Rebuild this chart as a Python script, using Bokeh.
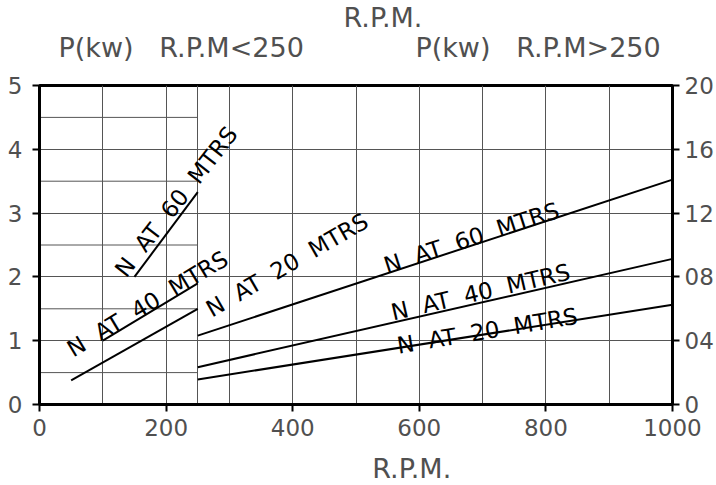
from bokeh.plotting import figure
from bokeh.models import Range1d, LinearAxis, FixedTicker, Title, ColumnDataSource
from bokeh.core.properties import value
from bokeh.embed import file_html
from bokeh.resources import INLINE

# Power curves below 250 rpm (left scale, kW 0-5)
rpm_low_20 = [50, 250]
kw_low_20 = [0.38, 1.5]
rpm_low_40 = [100, 250]
kw_low_40 = [1.0, 1.9]
rpm_low_60 = [150, 250]
kw_low_60 = [2.0, 3.33]

# Power curves above 250 rpm (right scale, kW 0-20)
rpm_high = [250, 1000]
kw_high_20 = [1.57, 6.25]
kw_high_40 = [2.34, 9.13]
kw_high_60 = [4.32, 14.1]

x_ticks = [0, 200, 400, 600, 800, 1000]
left_ticks = [0, 1, 2, 3, 4, 5]
right_ticks = [0, 4, 8, 12, 16, 20]
right_tick_labels = ["0", "04", "08", "12", "16", "20"]

NB = "\u00a0"
GAP = NB * 2
curve_label = "N" + GAP + "AT" + GAP + "{}" + GAP + "MTRS"
caption_low = "P(kw)" + NB * 3 + "R.P.M<250"
caption_high = "P(kw)" + NB * 3 + "R.P.M>250"
axis_name = "R.P.M."

FONT = "DejaVu Sans"
TICK_GREY = "#505050"
GRID = "#555555"

p = figure(frame_width=633, frame_height=319,
           x_range=Range1d(0, 1000), y_range=Range1d(0, 5),
           output_backend="svg", toolbar_location=None,
           min_border_left=39, min_border_right=44,
           min_border_top=85, min_border_bottom=81,
           background_fill_color="white", border_fill_color="white")
p.extra_y_ranges = {"high": Range1d(0, 20)}

# frame and axes
p.outline_line_color = "black"
p.outline_line_width = 3
p.outline_line_alpha = 1.0

def style_axis(ax):
    ax.axis_line_width = 3
    ax.axis_line_color = "black"
    ax.major_tick_line_width = 2
    ax.major_tick_line_color = "black"
    ax.major_tick_out = 7
    ax.major_tick_in = 0
    ax.minor_tick_out = 0
    ax.minor_tick_in = 0
    ax.major_label_text_font = FONT
    ax.major_label_text_font_size = "23px"
    ax.major_label_text_color = TICK_GREY

xa = p.xaxis[0]
xa.ticker = FixedTicker(ticks=x_ticks)
style_axis(xa)
xa.major_label_standoff = 7
# axis name sits right of centre: pad with no-break spaces
xa.axis_label = NB * 13 + axis_name
xa.axis_label_text_font = FONT
xa.axis_label_text_font_size = "27px"
xa.axis_label_text_font_style = "normal"
xa.axis_label_text_color = TICK_GREY
xa.axis_label_standoff = 14

ya = p.yaxis[0]
ya.ticker = FixedTicker(ticks=left_ticks)
style_axis(ya)
ya.major_label_standoff = 10

ra = LinearAxis(y_range_name="high", ticker=FixedTicker(ticks=right_ticks),
                major_label_overrides={t: s for t, s in zip(right_ticks, right_tick_labels)})
style_axis(ra)
ra.major_label_standoff = 5
p.add_layout(ra, "right")

# grid: full lines plus half-steps in the low-speed zone
p.xgrid.ticker = FixedTicker(ticks=[100, 200, 250, 300, 400, 500, 600, 700, 800, 900])
p.ygrid.ticker = FixedTicker(ticks=[1, 2, 3, 4])
for g in (p.xgrid[0], p.ygrid[0]):
    g.grid_line_color = GRID
    g.grid_line_width = 1

half_steps = [0.5, 1.5, 2.5, 3.5, 4.5]
p.segment(x0=[0] * len(half_steps), x1=[250] * len(half_steps),
          y0=half_steps, y1=half_steps, line_color=GRID, line_width=1)

# curves
for xs, ys in ((rpm_low_20, kw_low_20), (rpm_low_40, kw_low_40), (rpm_low_60, kw_low_60)):
    p.line(xs, ys, line_color="black", line_width=2)
for ys in (kw_high_20, kw_high_40, kw_high_60):
    p.line(rpm_high, ys, line_color="black", line_width=2, y_range_name="high")

# curve labels (positions on the left scale)
labels = ColumnDataSource(dict(
    x=[127, 47, 266, 545, 556, 565],
    y=[2.05, 0.84, 1.47, 2.17, 1.44, 0.92],
    text=[curve_label.format(h) for h in (60, 40, 20, 60, 40, 20)],
    angle=[52, 31, 30, 18, 13, 9.5],
))
p.text(x="x", y="y", text="text", angle="angle", angle_units="deg", source=labels,
       text_font=value(FONT), text_font_size="23px", text_color="black",
       text_align="left", text_baseline="alphabetic")

# captions above the frame
def caption(txt, offset, standoff, size="27px"):
    return Title(text=txt, align="left", offset=offset, standoff=standoff,
                 text_font=FONT, text_font_size=size, text_font_style="normal",
                 text_color=TICK_GREY)

p.add_layout(caption(caption_low + NB * 13 + caption_high, 19, 45), "above")
p.add_layout(caption(axis_name, 304, -50), "above")

open("out.html", "w").write(file_html(p, INLINE))
